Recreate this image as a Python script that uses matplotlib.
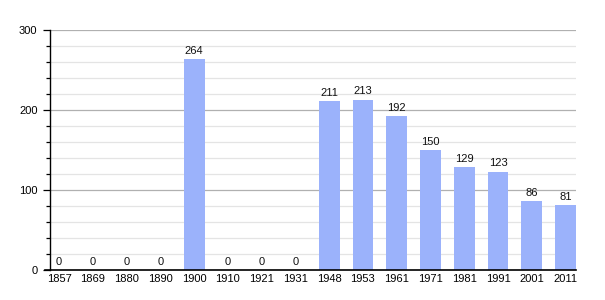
import numpy as np
import matplotlib
matplotlib.use('Agg')
import matplotlib.pyplot as plt
from matplotlib.ticker import MultipleLocator

years = ['1857', '1869', '1880', '1890', '1900', '1910', '1921', '1931',
         '1948', '1953', '1961', '1971', '1981', '1991', '2001', '2011']
population = [0, 0, 0, 0, 264, 0, 0, 0, 211, 213, 192, 150, 129, 123, 86, 81]

BAR_COLOR = '#9bb2fb'

plt.rcParams['font.family'] = ['Liberation Sans', 'DejaVu Sans']

fig = plt.figure(figsize=(6.05, 3.0), dpi=100)
ax = fig.add_axes([50 / 605., 30 / 300., 526 / 605., 240 / 300.])

x = np.arange(len(years))
ax.bar(x, population, width=0.62, color=BAR_COLOR, zorder=3)
for xi, val in zip(x, population):
    ax.text(xi, val + 4, str(val), ha='center', va='bottom', fontsize=8,
            color='#111111', zorder=4)

ax.set_xlim(-0.27, 15.31)
ax.set_ylim(0, 300)

# grid: major every 100, minor every 20
ax.yaxis.set_major_locator(MultipleLocator(100))
ax.yaxis.set_minor_locator(MultipleLocator(20))
ax.grid(True, axis='y', which='major', color='#b0b0b0', linewidth=0.9, zorder=1)
ax.grid(True, axis='y', which='minor', color='#e4e4e4', linewidth=0.9, zorder=1)

ax.set_xticks(x)
ax.set_xticklabels(years, fontsize=8)
ax.tick_params(axis='x', length=0, pad=3)
ax.tick_params(axis='y', which='major', length=5, width=0.9, labelsize=8, pad=4)
ax.tick_params(axis='y', which='minor', length=3, width=0.9)

for side in ('top', 'right'):
    ax.spines[side].set_visible(False)
ax.spines['left'].set_linewidth(1.0)
ax.spines['bottom'].set_visible(False)
# bottom axis line reaches a bit past the y axis
ax.plot([-0.27 - 5 / 33.75, 15.31], [0, 0], color='black', linewidth=1.2,
        clip_on=False, zorder=5)

fig.savefig('out.png', dpi=100)
